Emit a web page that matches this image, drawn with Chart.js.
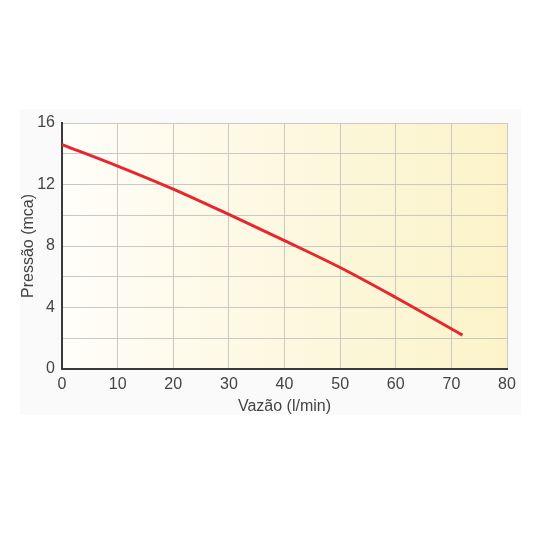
<!DOCTYPE html>
<html><head><meta charset="utf-8">
<script src="https://cdn.jsdelivr.net/npm/chart.js@4"></script>
<style>html,body{margin:0;padding:0;background:#fff}#w{width:533px;height:533px}</style>
</head><body><div id="w"><canvas id="c" width="533" height="533"></canvas></div>
<script>
const flowValues = [0, 10, 20, 30, 40, 50, 60, 72];
const pressureValues = [14.6, 13.2, 11.7, 10.05, 8.35, 6.6, 4.65, 2.2];
const xTicks = [0, 10, 20, 30, 40, 50, 60, 70, 80];
const yTicks = [0, 4, 8, 12, 16];
const xTitle = 'Vazão (l/min)';
const yTitle = 'Pressão (mca)';

const bgPlugin = {
  id: 'bg',
  beforeDraw(chart) {
    const {ctx, chartArea: a} = chart;
    ctx.save();
    ctx.fillStyle = '#fafafa';
    ctx.fillRect(a.left - 42, a.top - 14, a.right - a.left + 56, a.bottom - a.top + 60);
    const g = ctx.createLinearGradient(a.left, 0, a.right, 0);
    g.addColorStop(0, '#fffef9');
    g.addColorStop(0.5, '#fdf8e0');
    g.addColorStop(1, '#fcf3c9');
    ctx.fillStyle = g;
    ctx.fillRect(a.left, a.top, a.right - a.left, a.bottom - a.top);
    ctx.restore();
  }
};

const font = {family: 'Liberation Sans', size: 16};
new Chart(document.getElementById('c'), {
  type: 'line',
  data: {
    datasets: [{
      data: flowValues.map((x, i) => ({x, y: pressureValues[i]})),
      borderColor: '#e8262e',
      borderWidth: 3,
      pointRadius: 0,
      tension: 0.4,
      cubicInterpolationMode: 'monotone',
      fill: false
    }]
  },
  options: {
    responsive: false,
    animation: false,
    layout: {padding: {top: 123, right: 26, left: 15, bottom: 114}},
    plugins: {legend: {display: false}, tooltip: {enabled: false}},
    scales: {
      x: {
        type: 'linear', min: 0, max: 80,
        afterBuildTicks(s) { s.ticks = xTicks.map(v => ({value: v})); },
        afterFit(s) { s.height = 50; },
        grid: {color: '#c9c9c4', lineWidth: 1, drawTicks: false},
        border: {color: '#3a3a3a', width: 2},
        ticks: {color: '#444', font, padding: 6, maxRotation: 0},
        title: {display: true, text: xTitle, color: '#444', font, padding: {top: 2, bottom: 3}}
      },
      y: {
        type: 'linear', min: 0, max: 16,
        ticks: {stepSize: 2, color: '#444', font, padding: 7,
          callback: v => yTicks.includes(v) ? String(v) : ''},
        afterFit(s) { s.width = 47; },
        grid: {color: '#c9c9c4', lineWidth: 1, drawTicks: false},
        border: {color: '#3a3a3a', width: 2},
        title: {display: true, text: yTitle, color: '#444', font, padding: {top: 4, bottom: 2}}
      }
    }
  },
  plugins: [bgPlugin]
});
</script></body></html>
